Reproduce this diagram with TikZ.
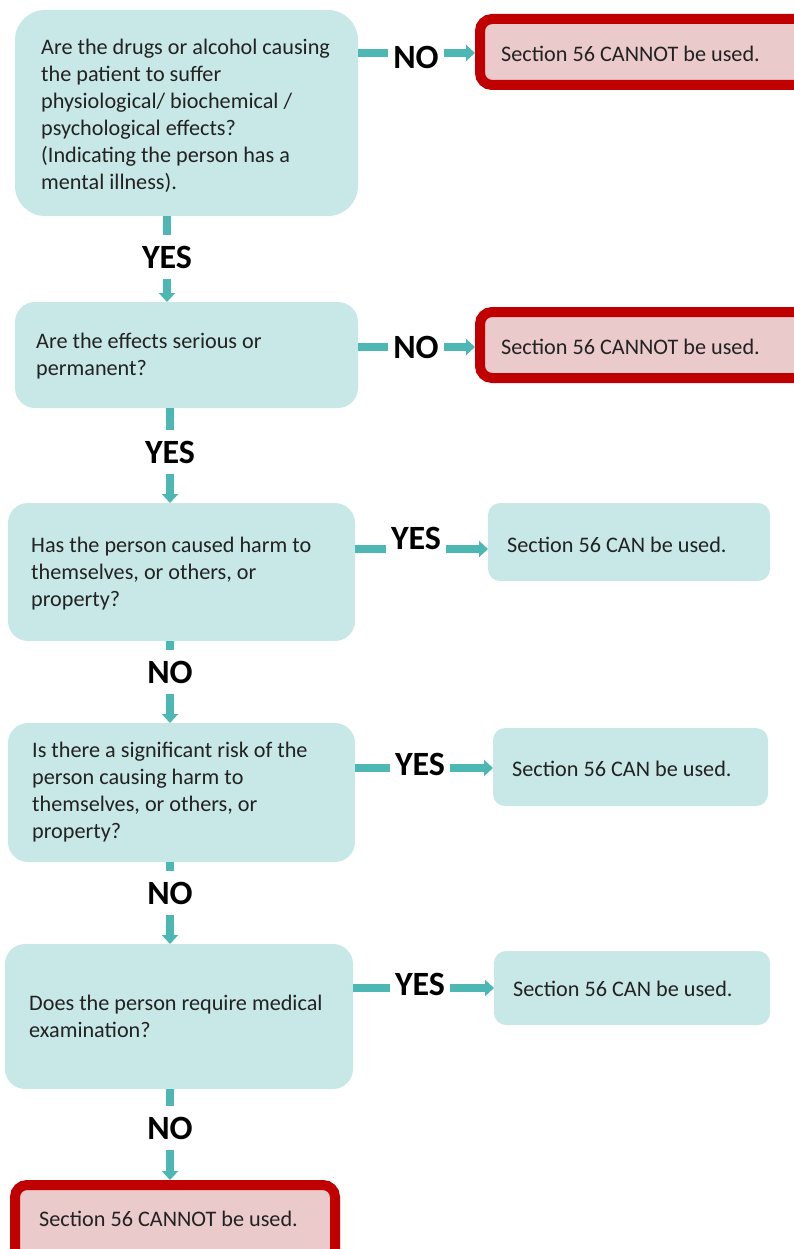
\documentclass[tikz,border=0pt]{standalone}
\usepackage{fontspec}
\setmainfont{Carlito}
\usetikzlibrary{arrows.meta}
\definecolor{tealfill}{HTML}{C8E8E7}
\definecolor{tealline}{HTML}{4DB8B3}
\definecolor{redb}{HTML}{C00000}
\definecolor{pinkf}{HTML}{EACACB}
\definecolor{txt}{HTML}{222222}
\begin{document}
\begin{tikzpicture}[x=1pt,y=-1pt,
  qbox/.style={fill=tealfill, draw=none, rounded corners=#1, inner sep=0pt, outer sep=0pt, anchor=north west},
  redbox/.style={draw=redb, line width=10pt, fill=pinkf, rounded corners=12pt, inner sep=0pt, anchor=north west},
  body/.style={font=\fontsize{22.2}{27}\selectfont, text=txt, align=left, inner sep=0pt, anchor=west},
  hlab/.style={font=\fontsize{34}{34}\selectfont\bfseries, text=black, inner xsep=5pt, inner ysep=0pt},
  vlab/.style={font=\fontsize{34}{34}\selectfont\bfseries, text=black, inner xsep=0pt, inner ysep=11pt},
  conn/.style={draw=tealline, line width=7.5pt},
  arr/.style={conn, -{Triangle[width=16pt,length=9pt]}}
]
\useasboundingbox (0,0) rectangle (793,1249);

% main question boxes
\node[qbox=30pt, minimum width=343pt, minimum height=206pt] (q1) at (15,10) {};
\node[qbox=20pt, minimum width=343pt, minimum height=106pt] (q2) at (15,302) {};
\node[qbox=20pt, minimum width=347pt, minimum height=138pt] (q3) at (8,503) {};
\node[qbox=20pt, minimum width=347pt, minimum height=139pt] (q4) at (8,723) {};
\node[qbox=20pt, minimum width=348pt, minimum height=145pt] (q5) at (5,944) {};

% outcome boxes
\node[redbox, minimum width=330pt, minimum height=66pt] (r1) at (475,14) {};
\node[redbox, minimum width=330pt, minimum height=66pt] (r2) at (475,307) {};
\node[qbox=12pt, minimum width=282pt, minimum height=78pt] (c1) at (488,503) {};
\node[qbox=12pt, minimum width=275pt, minimum height=78pt] (c2) at (493,728) {};
\node[qbox=12pt, minimum width=276pt, minimum height=74pt] (c3) at (494,951) {};
\node[redbox, minimum width=320pt, minimum height=80pt] (r3) at (10,1180) {};

% texts
\node[body] (q1t) at (41,116) {Are the drugs or alcohol causing\\the patient to suffer\\physiological/ biochemical /\\psychological effects?\\(Indicating the person has a\\mental illness).};
\node[body] (q2t) at (36,356) {Are the effects serious or\\permanent?};
\node[body] (q3t) at (31,574) {Has the person caused harm to\\themselves, or others, or\\property?};
\node[body] (q4t) at (32,792) {Is there a significant risk of the\\person causing harm to\\themselves, or others, or\\property?};
\node[body] (q5t) at (29,1016) {Does the person require medical\\examination?};
\node[body] (r1t) at (501,54) {Section 56 CANNOT be used.};
\node[body] (r2t) at (501,347) {Section 56 CANNOT be used.};
\node[body] (c1t) at (507,545) {Section 56 CAN be used.};
\node[body] (c2t) at (512,769) {Section 56 CAN be used.};
\node[body] (c3t) at (513,989) {Section 56 CAN be used.};
\node[body] (r3t) at (39,1219) {Section 56 CANNOT be used.};

% horizontal labels
\node[hlab] (n1) at (416,57) {NO};
\node[hlab] (n2) at (416,347) {NO};
\node[hlab] (y3) at (416,538) {YES};
\node[hlab] (y4) at (420,764) {YES};
\node[hlab] (y5) at (420,984) {YES};
\coordinate (h1) at (0,53);
\coordinate (h2) at (0,347);
\coordinate (h3) at (0,549);
\coordinate (h4) at (0,768);
\coordinate (h5) at (0,988);

% vertical labels
\node[vlab] (v1) at (167,257) {YES};
\node[vlab] (v2) at (170,452) {YES};
\node[vlab] (v3) at (170,672) {NO};
\node[vlab] (v4) at (170,893) {NO};
\node[vlab] (v5) at (170,1128) {NO};

% horizontal connectors
\draw[conn] (q1.east |- h1) -- (n1.west |- h1);
\draw[arr] (n1.east |- h1) -- (r1.west |- h1);
\draw[conn] (q2.east |- h2) -- (n2.west |- h2);
\draw[arr] (n2.east |- h2) -- (r2.west |- h2);
\draw[conn] (q3.east |- h3) -- (y3.west |- h3);
\draw[arr] (y3.east |- h3) -- (c1.west |- h3);
\draw[conn] (q4.east |- h4) -- (y4.west |- h4);
\draw[arr] (y4.east |- h4) -- (c2.west |- h4);
\draw[conn] (q5.east |- h5) -- (y5.west |- h5);
\draw[arr] (y5.east |- h5) -- (c3.west |- h5);

% vertical connectors
\draw[conn] (q1.south -| v1) -- (v1.north);
\draw[arr] (v1.south) -- (q2.north -| v1);
\draw[conn] (q2.south -| v2) -- (v2.north);
\draw[arr] (v2.south) -- (q3.north -| v2);
\draw[conn] (q3.south -| v3) -- (v3.north);
\draw[arr] (v3.south) -- (q4.north -| v3);
\draw[conn] (q4.south -| v4) -- (v4.north);
\draw[arr] (v4.south) -- (q5.north -| v4);
\draw[conn] (q5.south -| v5) -- (v5.north);
\draw[arr] (v5.south) -- (r3.north -| v5);
\end{tikzpicture}
\end{document}
